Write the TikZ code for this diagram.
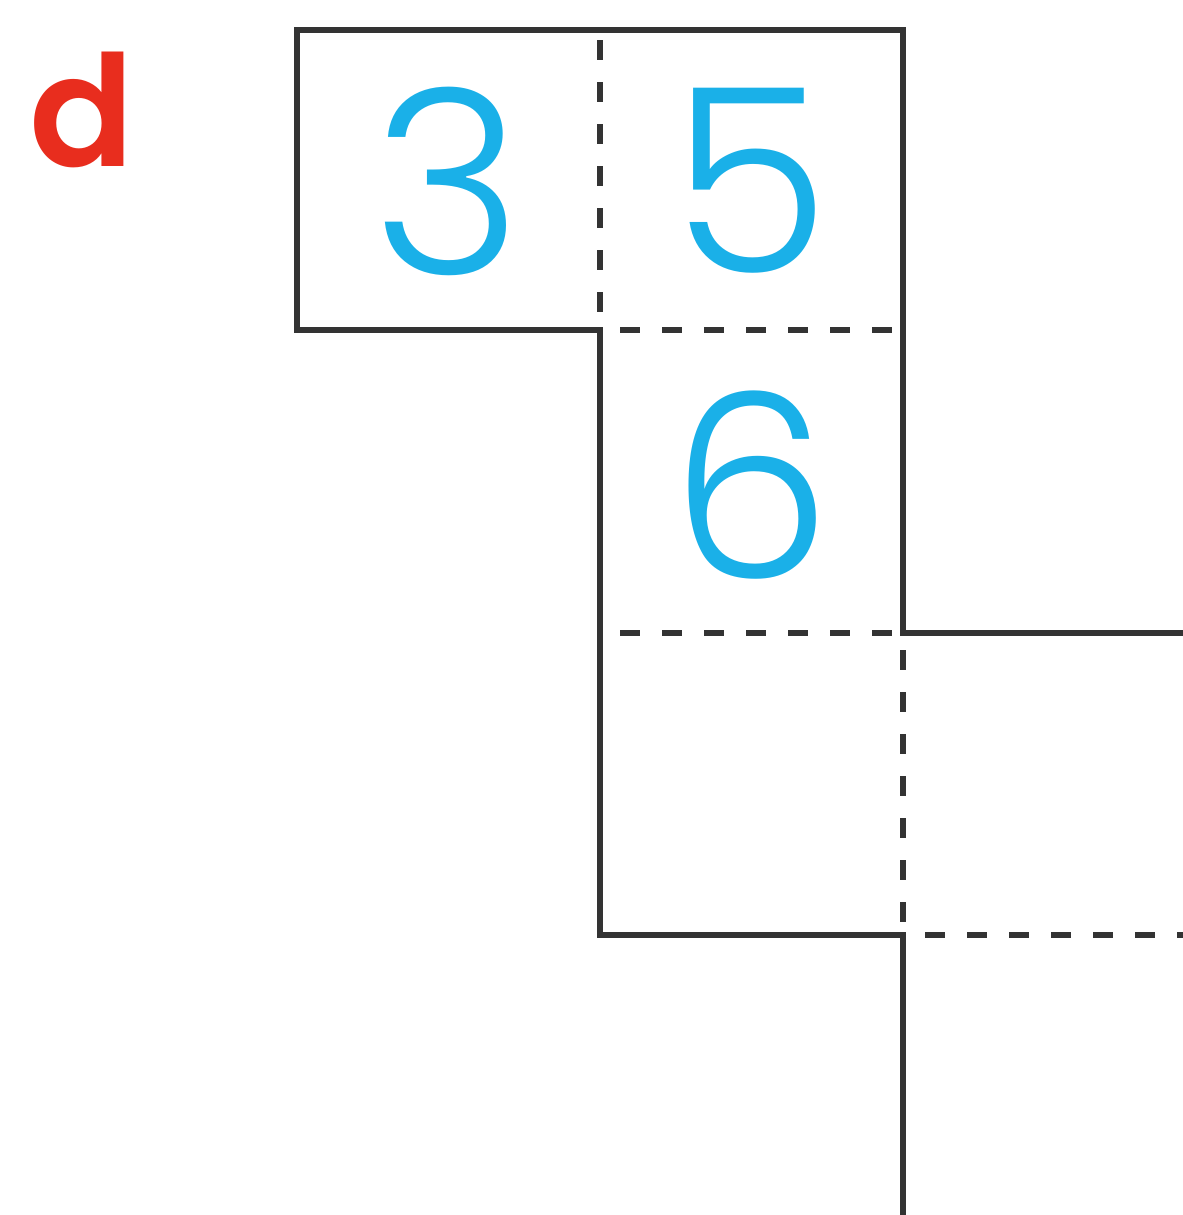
\documentclass[tikz,border=0pt]{standalone}
\usepackage{fontspec}
\setmainfont{Poppins}[UprightFont=* Light, BoldFont=* SemiBold]
\usepackage{tikz}
\usepackage{xcolor}
\definecolor{digitblue}{RGB}{26,176,232}
\definecolor{labelred}{RGB}{232,45,30}
\definecolor{gridgray}{RGB}{51,51,51}
\tikzset{
  wall/.style={line width=0.055cm, gridgray, line cap=rect},
  split/.style={line width=0.055cm, gridgray, dash pattern=on 0.2cm off 0.22cm},
  digit/.style={digitblue, font=\fontsize{73}{78}\selectfont}
}

\begin{document}
\begin{tikzpicture}[x=0.01cm, y=-0.01cm]
  \useasboundingbox (0,0) rectangle (1183,1215);
  % solid outline
  \draw[wall] (600,330) -- (297,330) -- (297,30) -- (903,30) -- (903,633) -- (1183,633);
  \draw[wall] (600,330) -- (600,935) -- (903,935) -- (903,1215);
  % dashed cell borders
  \draw[split] (600,40) -- (600,330);
  \draw[split] (620,330) -- (903,330);
  \draw[split] (620,633) -- (903,633);
  \draw[split] (903,650) -- (903,935);
  \draw[split] (925,935) -- (1183,935);
  % digits
  \node[digit] (three) at (448,181) {3};
  \node[digit] (five) at (751,181) {5};
  \node[digit] (six) at (751,485) {6};
  \node[labelred, font=\fontsize{44}{46}\selectfont\bfseries] (part) at (82,110) {d};
\end{tikzpicture}
\end{document}
